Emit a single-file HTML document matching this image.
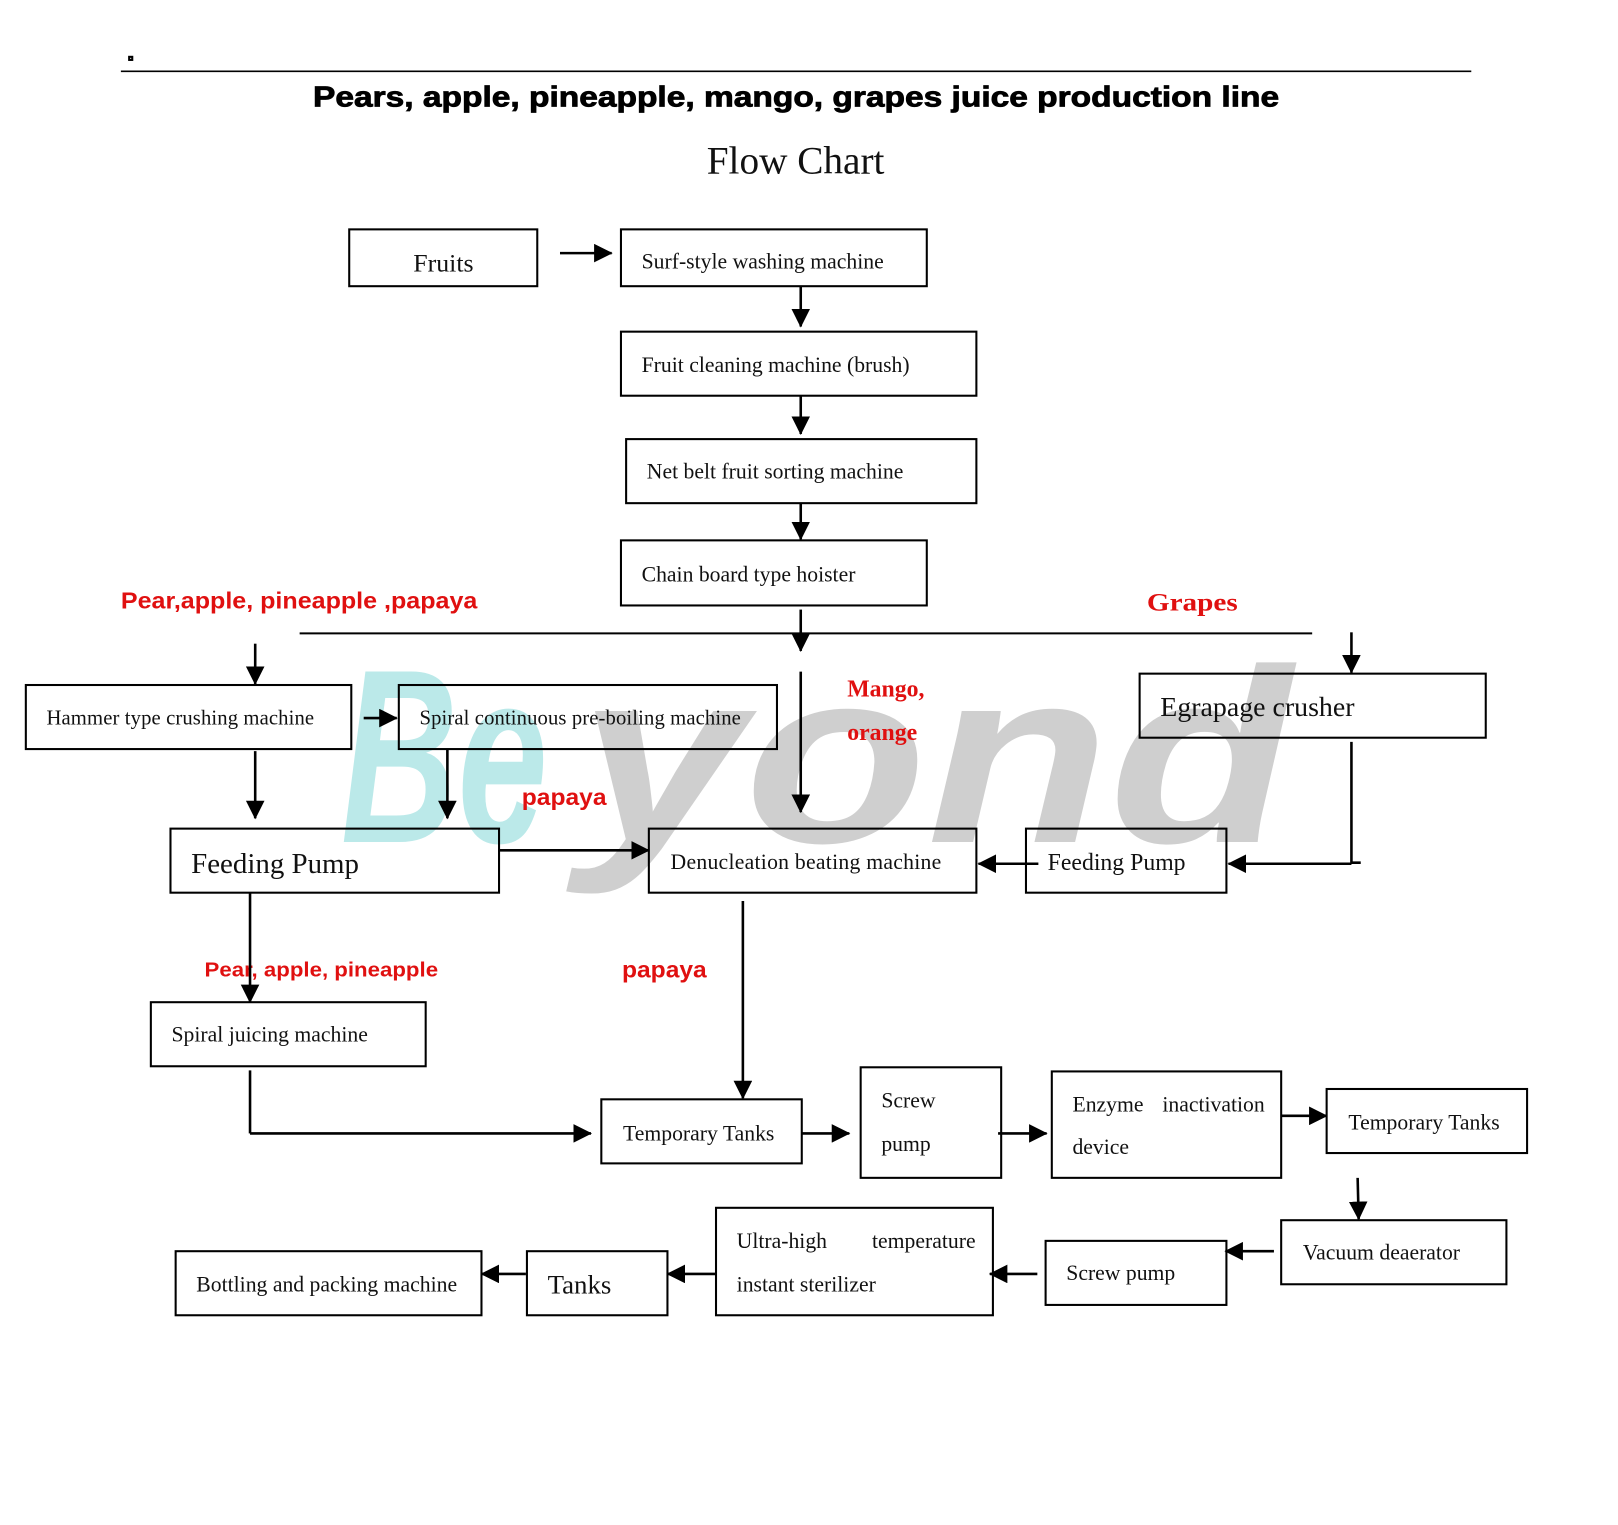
<!DOCTYPE html>
<html><head><meta charset="utf-8"><style>
html,body{margin:0;padding:0;background:#fff;width:1618px;height:1525px;overflow:hidden}
svg{display:block}
.t{font-family:"Liberation Serif",serif;font-size:21px;fill:#111}
.r{font-family:"Liberation Sans",sans-serif;font-weight:bold;fill:#e01010;font-size:22px}
.rs{font-family:"Liberation Serif",serif;font-weight:bold;fill:#e01010;font-size:23px}
rect{fill:none;stroke:#000;stroke-width:2}
line,polyline{stroke:#000;stroke-width:2.5;fill:none}
</style></head><body>
<svg width="1618" height="1525" viewBox="0 0 1566 1476" preserveAspectRatio="none" xmlns="http://www.w3.org/2000/svg">
<defs>
<marker id="b" markerWidth="18" markerHeight="18" refX="17" refY="9" orient="auto" markerUnits="userSpaceOnUse" viewBox="0 0 18 18"><path d="M0,0 L18,9 L0,18 z" fill="#000"/></marker></defs>
<text x="330" y="815" font-family="Liberation Sans,sans-serif" font-weight="bold" font-style="italic" font-size="240" fill="#8fdcdc" opacity="0.6" textLength="200" lengthAdjust="spacingAndGlyphs">Be</text>
<text x="560" y="815" font-family="Liberation Sans,sans-serif" font-weight="bold" font-style="italic" font-size="240" fill="#b0b0b0" opacity="0.6" textLength="690" lengthAdjust="spacingAndGlyphs">yond</text>
<rect x="125" y="55" width="3" height="3" fill="#000"/>
<line x1="117" y1="69" x2="1424" y2="69" style="stroke-width:1.5"/>
<text x="303" y="103" font-family="Liberation Sans,sans-serif" font-weight="bold" font-size="28" fill="#000" stroke="#000" stroke-width="0.8" textLength="935" lengthAdjust="spacingAndGlyphs">Pears, apple, pineapple, mango, grapes juice production line</text>
<text x="684" y="168" class="t" style="font-size:38px" textLength="172">Flow Chart</text>
<g>
<rect x="338" y="222" width="182" height="55"/><text x="400" y="263" class="t" style="font-size:25px">Fruits</text>
<rect x="601" y="222" width="296" height="55"/><text x="621" y="260" class="t">Surf-style washing machine</text>
<rect x="601" y="321" width="344" height="62"/><text x="621" y="360" class="t">Fruit cleaning machine (brush)</text>
<rect x="606" y="425" width="339" height="62"/><text x="626" y="463" class="t">Net belt fruit sorting machine</text>
<rect x="601" y="523" width="296" height="63"/><text x="621" y="563" class="t">Chain board type hoister</text>
<rect x="25" y="663" width="315" height="62"/><text x="45" y="701" class="t" style="font-size:20px" textLength="259">Hammer type crushing machine</text>
<rect x="386" y="663" width="366" height="62"/><text x="406" y="701" class="t" style="font-size:20px" textLength="311">Spiral continuous pre-boiling machine</text>
<rect x="1103" y="652" width="335" height="62"/><text x="1123" y="693" class="t" style="font-size:27px">Egrapage crusher</text>
<rect x="165" y="802" width="318" height="62"/><text x="185" y="845" class="t" style="font-size:28px">Feeding Pump</text>
<rect x="628" y="802" width="317" height="62"/><text x="649" y="841" class="t" textLength="262">Denucleation beating machine</text>
<rect x="993" y="802" width="194" height="62"/><text x="1014" y="842" class="t" style="font-size:23px">Feeding Pump</text>
<rect x="146" y="970" width="266" height="62"/><text x="166" y="1008" class="t">Spiral juicing machine</text>
<rect x="582" y="1064" width="194" height="62"/><text x="603" y="1104" class="t">Temporary Tanks</text>
<rect x="833" y="1033" width="136" height="107"/><text x="853" y="1072" class="t">Screw</text><text x="853" y="1114" class="t">pump</text>
<rect x="1018" y="1037" width="222" height="103"/><text x="1038" y="1076" class="t">Enzyme</text><text x="1125" y="1076" class="t">inactivation</text><text x="1038" y="1117" class="t">device</text>
<rect x="1284" y="1054" width="194" height="62"/><text x="1305" y="1093" class="t">Temporary Tanks</text>
<rect x="1240" y="1181" width="218" height="62"/><text x="1261" y="1219" class="t">Vacuum deaerator</text>
<rect x="1012" y="1201" width="175" height="62"/><text x="1032" y="1239" class="t">Screw pump</text>
<rect x="693" y="1169" width="268" height="104"/><text x="713" y="1208" class="t">Ultra-high</text><text x="844" y="1208" class="t">temperature</text><text x="713" y="1250" class="t">instant sterilizer</text>
<rect x="510" y="1211" width="136" height="62"/><text x="530" y="1252" class="t" style="font-size:26px">Tanks</text>
<rect x="170" y="1211" width="296" height="62"/><text x="190" y="1250" class="t">Bottling and packing machine</text>
</g>
<text x="117" y="589" class="r" textLength="345" lengthAdjust="spacingAndGlyphs">Pear,apple, pineapple ,papaya</text>
<text x="1110" y="591" class="rs" style="font-size:25px" textLength="88" lengthAdjust="spacingAndGlyphs">Grapes</text>
<text x="820" y="674" class="rs">Mango,</text>
<text x="820" y="716" class="rs">orange</text>
<text x="505" y="779" class="r" textLength="82" lengthAdjust="spacingAndGlyphs">papaya</text>
<text x="198" y="945" class="r" style="font-size:20px" textLength="226" lengthAdjust="spacingAndGlyphs">Pear, apple, pineapple</text>
<text x="602" y="946" class="r" textLength="82" lengthAdjust="spacingAndGlyphs">papaya</text>
<g>
<line x1="542" y1="245" x2="592" y2="245" marker-end="url(#b)"/>
<line x1="775" y1="277" x2="775" y2="316" marker-end="url(#b)"/>
<line x1="775" y1="383" x2="775" y2="420" marker-end="url(#b)"/>
<line x1="775" y1="487" x2="775" y2="522" marker-end="url(#b)"/>
<line x1="290" y1="613" x2="1270" y2="613" style="stroke-width:2"/>
<line x1="775" y1="590" x2="775" y2="630" marker-end="url(#b)"/>
<line x1="1308" y1="612" x2="1308" y2="651" marker-end="url(#b)"/>
<line x1="247" y1="623" x2="247" y2="662" marker-end="url(#b)"/>
<line x1="352" y1="695" x2="384" y2="695" marker-end="url(#b)"/>
<line x1="247" y1="727" x2="247" y2="792" marker-end="url(#b)"/>
<line x1="433" y1="725" x2="433" y2="792" marker-end="url(#b)"/>
<line x1="775" y1="650" x2="775" y2="786" marker-end="url(#b)"/>
<line x1="483" y1="823" x2="628" y2="823" marker-end="url(#b)"/>
<polyline points="1308,718 1308,835 1317,835"/>
<line x1="1308" y1="836" x2="1189" y2="836" marker-end="url(#b)"/>
<line x1="1005" y1="836" x2="947" y2="836" marker-end="url(#b)"/>
<line x1="242" y1="864" x2="242" y2="970" marker-end="url(#b)"/>
<line x1="719" y1="872" x2="719" y2="1063" marker-end="url(#b)"/>
<polyline points="242,1036 242,1097"/>
<line x1="242" y1="1097" x2="572" y2="1097" marker-end="url(#b)"/>
<line x1="776" y1="1097" x2="822" y2="1097" marker-end="url(#b)"/>
<line x1="966" y1="1097" x2="1013" y2="1097" marker-end="url(#b)"/>
<line x1="1240" y1="1080" x2="1284" y2="1080" marker-end="url(#b)"/>
<line x1="1314" y1="1140" x2="1315" y2="1180" marker-end="url(#b)"/>
<line x1="1233" y1="1211" x2="1186" y2="1211" marker-end="url(#b)"/>
<line x1="1004" y1="1233" x2="958" y2="1233" marker-end="url(#b)"/>
<line x1="693" y1="1233" x2="646" y2="1233" marker-end="url(#b)"/>
<line x1="509" y1="1233" x2="466" y2="1233" marker-end="url(#b)"/>
</g>
</svg>
</body></html>
